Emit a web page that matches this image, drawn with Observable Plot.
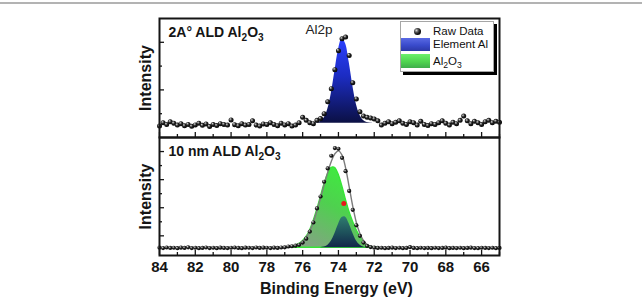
<!DOCTYPE html>
<html>
<head>
<meta charset="utf-8">
<title>Al2p XPS spectra</title>
<script src="https://cdn.jsdelivr.net/npm/d3@7"></script>
<script src="https://cdn.jsdelivr.net/npm/@observablehq/plot@0.6"></script>
<style>
  body { margin: 0; background: #fff; font-family: "Liberation Sans", Arial, Helvetica, sans-serif; }
  #figure { position: relative; width: 642px; height: 300px; overflow: hidden; background: #fff; }
  #rule { position: absolute; left: 0; top: 2px; width: 642px; height: 2px; background: #b3b3b3; }
  .panel { position: absolute; left: 0; }
  #defs { position: absolute; width: 0; height: 0; }
  #legend { position: absolute; left: 400px; top: 21px; width: 94px; height: 51px; box-sizing: border-box;
            border: 1px solid #a6a6a6; background: #fff; box-shadow: 3px 3px 0 #000; color: #111; font-size: 11.5px; }
  #legend .row { position: absolute; left: 0; height: 13.5px; display: flex; align-items: center; white-space: nowrap; }
  #legend .key { width: 29px; height: 13.5px; margin-right: 3px; display: flex; align-items: center; justify-content: center; }
  #legend .ball { width: 7px; height: 7px; border-radius: 50%; margin-left: 4px;
                  background: radial-gradient(circle at 35% 35%, #d8d8d8 0%, #555 30%, #111 60%, #000 100%); }
  #legend .blue { background: linear-gradient(180deg, #5a6ae4 0%, #3a4bcc 55%, #2c38a6 100%); }
  #legend .green { background: linear-gradient(180deg, #6cf06c 0%, #4fd450 55%, #3fae4c 100%); }
  #legend sub { font-size: 75%; vertical-align: -3px; line-height: 0; }
</style>
</head>
<body>
<div id="figure">
  <div id="rule"></div>
  <svg id="defs" width="0" height="0"></svg>
</div>
<script>
// Al2p spectra, two samples; binding energy scanned 84.0 -> 65.0 eV in 0.2 eV steps
const scanStart = 84.0;
const scanStep = 0.2;

// Raw counts, 2 Å ALD Al2O3 (arbitrary units)
const rawThin = [
  0.48, 0.62, 0.55, 0.66, 0.60, 0.52, 0.58, 0.49, 0.55, 0.47,
  0.53, 0.60, 0.51, 0.57, 0.46, 0.55, 0.50, 0.58, 0.55, 0.52,
  0.74, 0.54, 0.49, 0.58, 0.52, 0.55, 0.70, 0.52, 0.48, 0.57,
  0.55, 0.62, 0.55, 0.49, 0.60, 0.53, 0.58, 0.48, 0.52, 0.62,
  0.85, 0.72, 0.62, 0.58, 0.72, 0.80, 1.00,
  1.50, 2.05, 2.85, 3.65, 4.15, 4.22, 3.45, 2.30, 1.62, 1.08, 0.90,
  0.85, 0.82, 0.78, 0.70, 0.52, 0.60, 0.66, 0.58, 0.64, 0.70,
  0.60, 0.55, 0.66, 0.62, 0.52, 0.68, 0.55, 0.50, 0.58, 0.55,
  0.62, 0.70, 0.60, 0.52, 0.64, 0.58, 0.72, 0.90, 0.70, 0.58,
  0.68, 0.62, 0.55, 0.66, 0.72, 0.62, 0.68, 0.64
];

// Raw counts, 10 nm ALD Al2O3 (arbitrary units)
const rawThick = [
  0.16, 0.13, 0.17, 0.14, 0.15, 0.12, 0.16, 0.14, 0.18, 0.13,
  0.15, 0.12, 0.14, 0.17, 0.13, 0.15, 0.12, 0.16, 0.14, 0.13,
  0.15, 0.17, 0.14, 0.12, 0.16, 0.15, 0.13, 0.17, 0.14, 0.16,
  0.15, 0.13, 0.16, 0.14, 0.17,
  0.18, 0.24, 0.26, 0.30, 0.36, 0.52, 0.80, 1.30, 1.95, 2.95,
  3.80, 4.85, 5.80, 6.70, 7.25, 7.20, 6.55, 5.60, 4.20, 2.85,
  1.75, 1.00, 0.52, 0.28, 0.20, 0.16,
  0.14, 0.15, 0.12, 0.14, 0.16, 0.13, 0.15, 0.12, 0.14, 0.19,
  0.14, 0.12, 0.15, 0.13, 0.14, 0.12, 0.15, 0.13, 0.14, 0.16,
  0.12, 0.14, 0.13, 0.15, 0.12, 0.14, 0.16, 0.13, 0.12, 0.15,
  0.14, 0.13, 0.15, 0.12, 0.14
];

// Marked point on the 10 nm spectrum
const markedPoint = [{energy: 73.7, intensity: 3.3}];

// Flat backgrounds under the fitted components
const thinBase = 0.6;
const thickBase = 0.15;

// Metallic Al component of the 2 Å sample, 75.6 -> 72.0 eV (height above background)
const metalThinStart = 75.6;
const metalThin = [0.00, 0.00, 0.02, 0.07, 0.22, 0.58, 1.24, 2.17, 3.08, 3.56,
                   3.34, 2.56, 1.59, 0.80, 0.33, 0.11, 0.03, 0.01, 0.00];

// Components of the 10 nm sample, 77.0 -> 71.8 eV (height above background)
const fitStart = 77.0;
const oxide = [0.01, 0.03, 0.07, 0.14, 0.26, 0.45, 0.75, 1.20, 1.85, 2.65,
               3.55, 4.45, 5.20, 5.68, 5.70, 5.25, 4.45, 3.50, 2.62, 1.90,
               1.30, 0.82, 0.45, 0.20, 0.07, 0.02, 0.00];
const metalThick = [0.00, 0.00, 0.00, 0.00, 0.00, 0.00, 0.00, 0.00, 0.00, 0.00,
                    0.01, 0.05, 0.17, 0.46, 0.99, 1.65, 2.15, 2.18, 1.71, 1.05,
                    0.50, 0.19, 0.05, 0.01, 0.00, 0.00, 0.00];

// Axis ticks
const xMajor = [84, 82, 80, 78, 76, 74, 72, 70, 68, 66];
const xMinor = [83, 81, 79, 77, 75, 73, 71, 69, 67, 65];
const yMajorThin = [2, 4], yMinorThin = [1, 3];
const yMajorThick = [1, 3, 5, 7], yMinorThick = [2, 4, 6];

// Text
const panelLabels = ["2A° ALD Al_2O_3", "10 nm ALD Al_2O_3"];
const peakLabel = [{energy: 74.33, intensity: 4.54, text: "Al2p"}];
const xLabel = "Binding Energy (eV)";
const yLabel = "Intensity";
const legendItems = [
  {key: "ball", label: "Raw Data"},
  {key: "blue", label: "Element Al"},
  {key: "green", label: "Al_2O_3"}
];

// ---- tables for the marks ----
const grid = (start, n) => Array.from({length: n}, (_, i) => +(start - scanStep * i).toFixed(1));
const thinRows = grid(scanStart, rawThin.length).map((energy, i) => ({energy, intensity: rawThin[i]}));
const thickRows = grid(scanStart, rawThick.length).map((energy, i) => ({energy, intensity: rawThick[i]}));
const metalThinRows = grid(metalThinStart, metalThin.length)
  .map((energy, i) => ({energy, base: thinBase, top: thinBase + metalThin[i]}));
const fitRows = grid(fitStart, oxide.length).map((energy, i) => ({
  energy,
  base: thickBase,
  oxideTop: thickBase + oxide[i],
  metalTop: thickBase + metalThick[i],
  envelope: thickBase + oxide[i] + metalThick[i]
}));

// ---- shared gradients ----
const SVGNS = "http://www.w3.org/2000/svg";
const defs = d3.select("#defs").append("defs");
function linear(id, [x1, y1, x2, y2], stops) {
  const g = defs.append("linearGradient").attr("id", id)
    .attr("x1", x1).attr("y1", y1).attr("x2", x2).attr("y2", y2);
  stops.forEach(([o, c]) => g.append("stop").attr("offset", o).attr("stop-color", c));
}
const sphere = defs.append("radialGradient").attr("id", "sphere")
  .attr("cx", 0.45).attr("cy", 0.45).attr("r", 0.6).attr("fx", 0.33).attr("fy", 0.3);
[[0, "#e0e0e0"], [0.22, "#8a8a8a"], [0.5, "#222"], [1, "#000"]]
  .forEach(([o, c]) => sphere.append("stop").attr("offset", o).attr("stop-color", c));
linear("metalFill", [0, 0, 0, 1], [[0, "#2b40ff"], [0.45, "#1c2cc2"], [1, "#0b1044"]]);
linear("oxideFill", [0.75, 0, 0.1, 1], [[0, "#3cf03c"], [0.45, "#4fd04f"], [1, "#8c9c8c"]]);
linear("metalFillThick", [0, 0, 0, 1], [[0, "#2f7d6f"], [0.55, "#1d4f5a"], [1, "#13264a"]]);

// ---- layout ----
const W = 642, ML = 159, MR = 143, frameW = W - ML - MR;
const ink = "#151515";
const font = '"Liberation Sans", Arial, Helvetica, sans-serif';
const svgStyle = {background: "transparent", overflow: "visible", fontFamily: font,
                  fontSize: "15px", fontWeight: "bold", color: ink};

function frameTicks(yMajor, yMinor, frameH) {
  const t = {stroke: ink, strokeWidth: 1.3};
  return [
    Plot.tickX(xMajor, {x: d => d, insetTop: frameH - 5, ...t}),
    Plot.tickX(xMinor, {x: d => d, insetTop: frameH - 3, ...t}),
    Plot.tickY(yMajor, {y: d => d, insetRight: frameW - 5, ...t}),
    Plot.tickY(yMinor, {y: d => d, insetRight: frameW - 3, ...t}),
    Plot.frame({stroke: ink, strokeWidth: 2})
  ];
}

// Upper panel: 2 Å film
const topH = 140, topMT = 18, topMB = 3;
const topPlot = Plot.plot({
  width: W, height: topH, marginTop: topMT, marginBottom: topMB, marginLeft: ML, marginRight: MR,
  style: svgStyle,
  x: {domain: [84, 65], axis: null},
  y: {domain: [0, 5], axis: null},
  marks: [
    Plot.areaY(metalThinRows, {x: "energy", y1: "base", y2: "top", fill: "url(#metalFill)", curve: "catmull-rom"}),
    Plot.dot(thinRows, {x: "energy", y: "intensity", r: 2.5, fill: "url(#sphere)"}),
    Plot.text(peakLabel, {x: "energy", y: "intensity", text: "text", textAnchor: "end", lineAnchor: "middle",
                          fontSize: 13.5, fontWeight: "normal", fill: "#222"}),
    Plot.text([panelLabels[0]], {frameAnchor: "top-left", dx: 9, dy: 9, lineAnchor: "top", textAnchor: "start",
                                 fontSize: 14, fontWeight: "bold", fill: ink}),
    Plot.text([yLabel], {frameAnchor: "left", rotate: -90, dx: -14, textAnchor: "middle", lineAnchor: "middle",
                         fontSize: 16, fontWeight: "bold", fill: ink}),
    ...frameTicks(yMajorThin, yMinorThin, topH - topMT - topMB)
  ]
});

// Lower panel: 10 nm film
const botH = 164, botMT = 1, botMB = 45;
const bottomPlot = Plot.plot({
  width: W, height: botH, marginTop: botMT, marginBottom: botMB, marginLeft: ML, marginRight: MR,
  style: svgStyle,
  x: {domain: [84, 65], ticks: xMajor, tickSize: 0, tickPadding: 6, tickFormat: d => String(d), label: null},
  y: {domain: [-0.4, 8], axis: null},
  marks: [
    Plot.areaY(fitRows, {x: "energy", y1: "base", y2: "oxideTop", fill: "url(#oxideFill)",
                         stroke: "#36e636", strokeWidth: 1.3, curve: "catmull-rom"}),
    Plot.areaY(fitRows, {x: "energy", y1: "base", y2: "metalTop", fill: "url(#metalFillThick)", curve: "catmull-rom"}),
    Plot.line(fitRows, {x: "energy", y: "envelope", stroke: "#7c7c7c", strokeWidth: 1.4, curve: "catmull-rom"}),
    Plot.dot(thickRows, {x: "energy", y: "intensity", r: 2.1, fill: "url(#sphere)"}),
    Plot.dot(markedPoint, {x: "energy", y: "intensity", r: 2.5, fill: "#e8161a"}),
    Plot.text([panelLabels[1]], {frameAnchor: "top-left", dx: 9, dy: 9, lineAnchor: "top", textAnchor: "start",
                                 fontSize: 14, fontWeight: "bold", fill: ink}),
    Plot.text([yLabel], {frameAnchor: "left", rotate: -90, dx: -14, textAnchor: "middle", lineAnchor: "middle",
                         fontSize: 16, fontWeight: "bold", fill: ink}),
    Plot.text([xLabel], {frameAnchor: "bottom", dx: 7, dy: 33, textAnchor: "middle", lineAnchor: "middle",
                         fontSize: 16, fontWeight: "bold", fill: ink}),
    ...frameTicks(yMajorThick, yMinorThick, botH - botMT - botMB)
  ]
});

// Chemical formulas: "_2" marks a subscript digit
function subscripts(svg) {
  svg.querySelectorAll("text").forEach(t => {
    const s = t.textContent;
    if (!/_\d/.test(s)) return;
    const parts = s.split(/_(\d)/);
    t.textContent = "";
    let low = false;
    parts.forEach((p, i) => {
      if (!p) return;
      const ts = document.createElementNS(SVGNS, "tspan");
      ts.textContent = p;
      if (i % 2 === 1) {
        ts.setAttribute("font-size", "72%");
        if (!low) ts.setAttribute("dy", 4);
        low = true;
      } else if (low) {
        ts.setAttribute("dy", -4);
        low = false;
      }
      t.appendChild(ts);
    });
  });
}
subscripts(topPlot);
subscripts(bottomPlot);

const fig = document.getElementById("figure");
topPlot.classList.add("panel");
topPlot.style.top = "0px";
bottomPlot.classList.add("panel");
bottomPlot.style.top = (topH - topMB - botMT) + "px";
fig.appendChild(topPlot);
fig.appendChild(bottomPlot);

// Legend
const legend = document.createElement("div");
legend.id = "legend";
const rowTops = [2.5, 15.5, 32];
legendItems.forEach((item, i) => {
  const row = document.createElement("div");
  row.className = "row";
  row.style.top = rowTops[i] + "px";
  const key = document.createElement("div");
  key.className = "key" + (item.key === "ball" ? "" : " " + item.key);
  if (item.key === "ball") {
    const b = document.createElement("div");
    b.className = "ball";
    key.appendChild(b);
  }
  const label = document.createElement("span");
  label.innerHTML = item.label.replace(/_(\d)/g, "<sub>$1</sub>");
  row.appendChild(key);
  row.appendChild(label);
  legend.appendChild(row);
});
fig.appendChild(legend);
</script>
</body>
</html>
